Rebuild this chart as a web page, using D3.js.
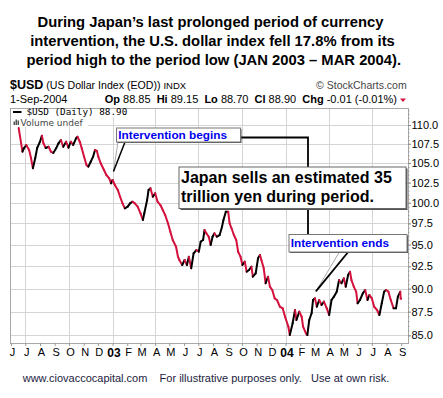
<!DOCTYPE html>
<html>
<head>
<meta charset="utf-8">
<script src="https://cdn.jsdelivr.net/npm/d3@7"></script>
<style>
body { margin: 0; background: #fff; }
svg { display: block; }
</style>
</head>
<body>
<svg width="443" height="398"></svg>
<script>
// US Dollar Index, daily closes (Jun 2002 - Sep 2004)
var dates = [
  "2002-06-17","2002-06-25","2002-06-28","2002-07-03","2002-07-09","2002-07-13","2002-07-17","2002-07-22","2002-07-26","2002-08-01",
  "2002-08-05","2002-08-08","2002-08-13","2002-08-19","2002-08-24","2002-08-29","2002-09-04","2002-09-09","2002-09-14","2002-09-19",
  "2002-09-25","2002-09-30","2002-10-05","2002-10-10","2002-10-16","2002-10-19","2002-10-24","2002-10-28","2002-11-02","2002-11-07",
  "2002-11-11","2002-11-16","2002-11-21","2002-11-25","2002-11-29","2002-12-02","2002-12-07","2002-12-14","2002-12-19","2002-12-25",
  "2002-12-29","2003-01-01","2003-01-06","2003-01-12","2003-01-17","2003-01-22","2003-01-27","2003-02-02","2003-02-07","2003-02-12",
  "2003-02-17","2003-02-23","2003-03-01","2003-03-06","2003-03-09","2003-03-15","2003-03-18","2003-03-22","2003-03-27","2003-04-01",
  "2003-04-06","2003-04-12","2003-04-17","2003-04-22","2003-04-28","2003-05-03","2003-05-08","2003-05-15","2003-05-19","2003-05-22",
  "2003-05-28","2003-06-02","2003-06-07","2003-06-11","2003-06-16","2003-06-21","2003-06-27","2003-07-02","2003-07-06","2003-07-11",
  "2003-07-14","2003-07-18","2003-07-23","2003-07-27","2003-07-31","2003-08-04","2003-08-09","2003-08-15","2003-08-20","2003-08-23",
  "2003-08-28","2003-09-02","2003-09-05","2003-09-09","2003-09-14","2003-09-19","2003-09-23","2003-09-28","2003-10-02","2003-10-07",
  "2003-10-11","2003-10-16","2003-10-21","2003-10-24","2003-10-30","2003-11-04","2003-11-08","2003-11-11","2003-11-16","2003-11-20",
  "2003-11-25","2003-11-29","2003-12-04","2003-12-09","2003-12-14","2003-12-20","2003-12-26","2003-12-31","2004-01-07","2004-01-10",
  "2004-01-16","2004-01-21","2004-01-24","2004-01-30","2004-02-04","2004-02-07","2004-02-13","2004-02-16","2004-02-20","2004-02-25",
  "2004-02-28","2004-03-03","2004-03-07","2004-03-12","2004-03-17","2004-03-22","2004-03-28","2004-04-02","2004-04-07","2004-04-12",
  "2004-04-18","2004-04-23","2004-04-28","2004-05-03","2004-05-07","2004-05-12","2004-05-16","2004-05-19","2004-05-24","2004-05-29",
  "2004-06-01","2004-06-06","2004-06-12","2004-06-17","2004-06-22","2004-06-26","2004-07-01","2004-07-06","2004-07-12","2004-07-17",
  "2004-07-22","2004-07-27","2004-07-31","2004-08-05","2004-08-10","2004-08-16","2004-08-21","2004-08-25","2004-08-30","2004-08-31","2004-09-01"
];
var closes = [
  109.60,106.46,106.90,107.34,106.68,105.64,104.31,105.64,106.94,107.77,
  108.57,107.60,106.94,107.11,106.46,106.29,106.90,107.56,108.00,107.11,
  107.77,106.98,107.77,107.34,108.22,108.43,107.77,106.90,105.81,104.74,
  104.52,105.16,105.81,106.68,106.55,105.81,104.96,104.10,103.46,103.04,
  102.41,102.83,102.20,101.58,100.74,99.93,99.32,99.52,99.93,100.13,
  99.93,99.52,98.71,97.91,98.71,100.34,101.58,101.79,100.74,101.16,
  100.13,99.72,99.11,98.51,97.51,96.51,95.53,94.75,93.60,93.22,
  92.65,93.22,92.65,93.60,92.28,93.99,94.37,94.17,95.34,95.53,
  96.71,96.32,95.92,94.95,95.92,96.32,95.92,96.12,97.11,97.91,
  98.91,98.91,97.51,96.92,96.12,95.53,94.17,93.60,92.65,93.03,
  91.89,92.08,92.46,91.33,91.71,93.42,93.79,93.22,92.28,90.60,
  91.33,90.22,89.85,88.94,88.76,88.03,87.86,86.96,85.90,85.03,
  86.26,87.68,86.61,87.50,86.96,85.90,85.21,85.03,86.61,87.33,
  88.76,88.94,88.03,88.76,88.22,88.58,87.86,87.14,88.76,89.12,
  89.67,90.96,90.60,91.15,90.22,91.52,91.89,90.96,90.22,89.67,
  88.40,88.76,89.49,89.85,88.76,89.31,88.94,88.03,87.68,87.14,
  88.40,89.67,89.85,89.67,88.76,87.86,87.86,89.12,89.67,88.91,88.90
];

// axis labels
var monthLabels = ["J","J","A","S","O","N","D","03","F","M","A","M","J","J","A","S","O","N","D","04","F","M","A","M","J","J","A","S"];
var yTicks = [85, 87.5, 90, 92.5, 95, 97.5, 100, 102.5, 105, 107.5, 110];

// texts
var titleLines = [
  "During Japan\u2019s last prolonged period of currency",
  "intervention, the U.S. dollar index fell 17.8% from its",
  "period high to the period low (JAN 2003 \u2013 MAR 2004)."
];
var quoteLabels = ["Op", "Hi", "Lo", "Cl", "Chg"];
var quoteValues = ["88.85", "89.15", "88.70", "88.90", "-0.01 (-0.01%)"];
var noteLines = ["Japan sells an estimated 35", "trillion yen during period."];

var svg = d3.select("svg");
var font = "'Liberation Sans', Arial, sans-serif";
var red = "#d4113d";
var plot = {l: 10, r: 408, t: 108, b: 343};

var parse = d3.utcParse("%Y-%m-%d");
var points = dates.map(function(d, i) { return {date: parse(d), v: closes[i]}; });

var x = d3.scaleUtc()
  .domain([parse("2002-06-01"), parse("2004-09-01")])
  .range([11.1, 401.2]);
var y = d3.scaleLog()
  .domain([85, 110])
  .range([335.3, 125]);

// ---- title
var title = svg.append("g").attr("font-family", font).attr("font-weight", "bold");
var titleCx = [210.5, 212.5, 213.8];
titleLines.forEach(function(t, i) {
  title.append("text")
    .attr("x", titleCx[i]).attr("y", 26.5 + i * 19.2)
    .attr("text-anchor", "middle")
    .attr("font-size", 16)
    .text(t);
});
// fit title size to the reference width of line 2
var len2 = title.selectAll("text").nodes()[1].getComputedTextLength();
title.selectAll("text").attr("font-size", 16 * 365 / len2);

// ---- header
var head = svg.append("g").attr("font-family", font);
var h1 = head.append("text").attr("x", 10).attr("y", 89).style("white-space", "pre");
h1.append("tspan").attr("font-weight", "bold").attr("font-size", 12.5).text("$USD");
h1.append("tspan").attr("font-size", 10.6).text(" (US Dollar Index (EOD)) ");
h1.append("tspan").attr("font-size", 9.5).text("INDX");

head.append("text").attr("x", 406.7).attr("y", 89).attr("text-anchor", "end")
  .attr("font-size", 10.5).attr("fill", "#444").text("\u00a9 StockCharts.com");

head.append("text").attr("x", 10).attr("y", 103).attr("font-size", 11).text("1-Sep-2004");

var q = head.append("text").attr("x", 397).attr("y", 103).attr("text-anchor", "end")
  .attr("font-size", 11).style("white-space", "pre");
quoteLabels.forEach(function(l, i) {
  q.append("tspan").attr("font-weight", "bold").text(l);
  q.append("tspan").text(" " + quoteValues[i] + (i < quoteLabels.length - 1 ? "  " : ""));
});
head.append("path").attr("d", "M400,98.5 L406,98.5 L403,102 Z").attr("fill", red);

// ---- grid
var grid = svg.append("g").attr("stroke", "#d4d4d4").attr("stroke-width", 1);
grid.selectAll(".hg").data(yTicks).join("line")
  .attr("x1", plot.l).attr("x2", plot.r)
  .attr("y1", function(d) { return Math.round(y(d)) + 0.5; })
  .attr("y2", function(d) { return Math.round(y(d)) + 0.5; });
var quarters = d3.utcMonth.every(3).range(parse("2002-07-01"), parse("2004-09-01"));
grid.selectAll(".vg").data(quarters).join("line")
  .attr("x1", function(d) { return Math.round(x(d)) + 0.5; })
  .attr("x2", function(d) { return Math.round(x(d)) + 0.5; })
  .attr("y1", plot.t).attr("y2", plot.b);

// ---- price line, black on up moves and red on down moves
svg.append("clipPath").attr("id", "clip")
  .append("rect").attr("x", plot.l).attr("y", plot.t).attr("width", plot.r - plot.l).attr("height", plot.b - plot.t);
svg.append("g").attr("clip-path", "url(#clip)")
  .selectAll("line").data(d3.pairs(points)).join("line")
  .attr("x1", function(p) { return x(p[0].date); })
  .attr("y1", function(p) { return y(p[0].v); })
  .attr("x2", function(p) { return x(p[1].date); })
  .attr("y2", function(p) { return y(p[1].v); })
  .attr("stroke", function(p) { return p[1].v >= p[0].v ? "#000" : red; })
  .attr("stroke-width", 2)
  .attr("stroke-linecap", "round");

// ---- frame
svg.append("rect")
  .attr("x", plot.l + 0.5).attr("y", plot.t + 0.5)
  .attr("width", plot.r - plot.l).attr("height", plot.b - plot.t)
  .attr("fill", "none").attr("stroke", "#a8a8a8");

// ---- legend
var leg = svg.append("g").attr("font-family", "'DejaVu Sans Mono', monospace");
leg.append("rect").attr("x", 11).attr("y", 109).attr("width", 121).attr("height", 8.5).attr("fill", "#fff");
leg.append("rect").attr("x", 11).attr("y", 117.5).attr("width", 77).attr("height", 9).attr("fill", "#fff");
leg.append("line").attr("x1", 13).attr("x2", 21.5).attr("y1", 112).attr("y2", 112).attr("stroke", "#000").attr("stroke-width", 2);
leg.append("text").attr("x", 26.5).attr("y", 115).attr("font-size", 9.3).text("$USD (Daily) 88.90");
[[13.5, 3.5], [15.5, 5.5], [17.5, 4.5]].forEach(function(b) {
  leg.append("rect").attr("x", b[0]).attr("y", 126 - b[1] - 1).attr("width", 1.5).attr("height", b[1]).attr("fill", "#555");
});
leg.append("text").attr("x", 20.5).attr("y", 126).attr("font-size", 9)
  .attr("font-family", "'DejaVu Sans', sans-serif").attr("fill", "#444").text("Volume undef");

// ---- axes
var months = d3.utcMonth.range(parse("2002-06-01"), parse("2004-09-02"));
var xAxis = svg.append("g")
  .attr("transform", "translate(0," + plot.b + ")")
  .call(d3.axisBottom(x).tickValues(months).tickSize(3).tickPadding(2)
    .tickFormat(function(d, i) { return monthLabels[i]; }));
xAxis.select(".domain").remove();
xAxis.selectAll(".tick line").attr("stroke", "#999");
xAxis.selectAll(".tick text")
  .attr("font-family", font).attr("fill", "#000").attr("dx", 1)
  .attr("font-weight", function(d, i) { return /\d/.test(monthLabels[i]) ? "bold" : "normal"; })
  .attr("font-size", function(d, i) { return /\d/.test(monthLabels[i]) ? 12 : 11; });

var minor = d3.range(85, 112.01, 0.5);
var yMinor = svg.append("g")
  .attr("transform", "translate(" + plot.r + ",0)")
  .call(d3.axisRight(y).tickValues(minor.filter(function(v) { return y(v) > plot.t; })).tickSize(1.5).tickFormat(""));
yMinor.select(".domain").remove();
yMinor.selectAll(".tick line").attr("stroke", "#999");

var yAxis = svg.append("g")
  .attr("transform", "translate(" + plot.r + ",0)")
  .call(d3.axisRight(y).tickValues(yTicks).tickSize(3).tickPadding(0.5).tickFormat(d3.format(".1f")));
yAxis.select(".domain").remove();
yAxis.selectAll(".tick line").attr("stroke", "#888");
yAxis.selectAll(".tick text").attr("font-family", font).attr("font-size", 11).attr("fill", "#000");

// ---- annotations
var ann = svg.append("g").attr("font-family", font);

// bracket linking the boxes
ann.append("path")
  .attr("d", "M240,137.5 H308 V234")
  .attr("fill", "none").attr("stroke", "#000").attr("stroke-width", 1.8);

function callout(x0, y0, w, h, shadow, stroke) {
  ann.append("rect").attr("x", x0 + shadow).attr("y", y0 + shadow).attr("width", w).attr("height", h).attr("fill", "#555");
  ann.append("rect").attr("x", x0 + 0.5).attr("y", y0 + 0.5).attr("width", w).attr("height", h)
    .attr("fill", "#fff").attr("stroke", stroke).attr("stroke-width", 1);
}

// "Intervention begins" with its pointer
var tipA = [x(parse("2003-01-03")), y(103.9)];
ann.append("path").attr("d", "M118,142 L126,142 L" + tipA[0] + "," + tipA[1] + "Z").attr("fill", "#fff").attr("stroke", "none");
ann.append("line").attr("x1", 118).attr("y1", 142).attr("x2", tipA[0]).attr("y2", tipA[1]).attr("stroke", "#aaa");
ann.append("line").attr("x1", 125).attr("y1", 142).attr("x2", tipA[0]).attr("y2", tipA[1]).attr("stroke", "#000").attr("stroke-width", 1.5);
callout(116, 127.5, 124, 14, 1.5, "#777");
ann.append("text").attr("x", 118.3).attr("y", 138.5).attr("font-size", 11.8).attr("font-weight", "bold")
  .attr("fill", "#0000ee").text("Intervention begins");

// big note
callout(178.5, 166.5, 227, 41.5, 2, "#666");
noteLines.forEach(function(t, i) {
  ann.append("text").attr("x", 181).attr("y", 183 + i * 19.2)
    .attr("font-size", 16).attr("font-weight", "bold").attr("fill", "#000").text(t);
});

// "Intervention ends" with its pointer
var tipB = [x(parse("2004-03-05")), y(89.7)];
ann.append("path").attr("d", "M338,251 L350,251 L" + tipB[0] + "," + tipB[1] + "Z").attr("fill", "#fff").attr("stroke", "none");
ann.append("line").attr("x1", 340).attr("y1", 251).attr("x2", tipB[0]).attr("y2", tipB[1]).attr("stroke", "#aaa");
ann.append("line").attr("x1", 349).attr("y1", 251).attr("x2", tipB[0]).attr("y2", tipB[1]).attr("stroke", "#000").attr("stroke-width", 1.8);
callout(288.5, 234, 118, 17.5, 1.5, "#777");
ann.append("text").attr("x", 290.7).attr("y", 247).attr("font-size", 11.8).attr("font-weight", "bold")
  .attr("fill", "#0000ee").text("Intervention ends");

// ---- footer
svg.append("text")
  .attr("x", 22.7).attr("y", 382)
  .attr("font-family", font).attr("font-size", 11).attr("fill", "#1c1c40")
  .style("white-space", "pre")
  .text("www.ciovaccocapital.com    For illustrative purposes only.   Use at own risk.");
</script>
</body>
</html>
